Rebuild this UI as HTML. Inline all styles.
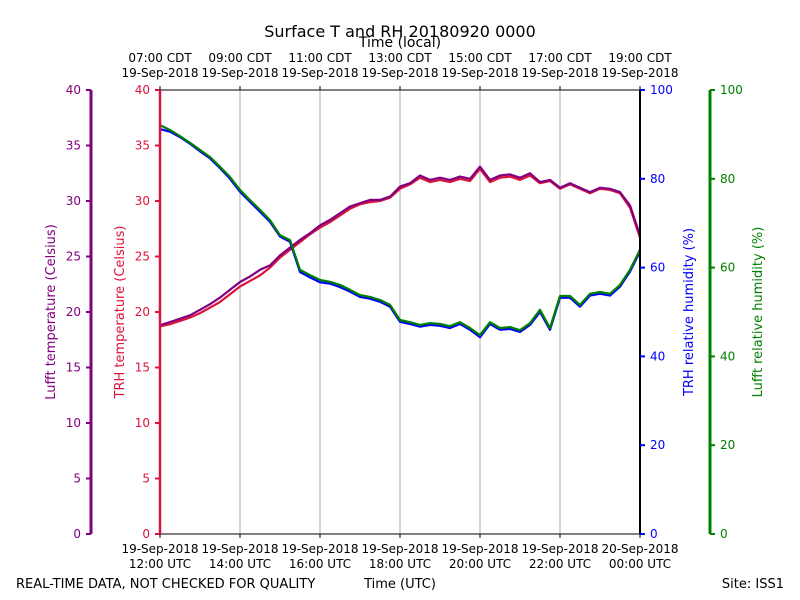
<!DOCTYPE html>
<html><head><meta charset="utf-8"><style>
body{margin:0;background:#fff;}
svg{display:block;font-family:"DejaVu Sans","Liberation Sans",sans-serif;}
</style></head><body>
<svg id="c" width="800" height="600" viewBox="0 0 800 600"></svg>
<script>
const times=[0,0.25,0.5,0.75,1,1.25,1.5,1.75,2,2.25,2.5,2.75,3,3.25,3.5,3.75,4,4.25,4.5,4.75,5,5.25,5.5,5.75,6,6.25,6.5,6.75,7,7.25,7.5,7.75,8,8.25,8.5,8.75,9,9.25,9.5,9.75,10,10.25,10.5,10.75,11,11.25,11.5,11.75,12];
const lufftT=[18.8,19.1,19.4,19.7,20.2,20.7,21.3,22.0,22.7,23.2,23.8,24.2,25.1,25.8,26.5,27.1,27.8,28.3,28.9,29.5,29.8,30.1,30.1,30.4,31.3,31.6,32.3,31.9,32.1,31.9,32.2,32.0,33.1,31.9,32.3,32.4,32.1,32.5,31.7,31.9,31.2,31.6,31.2,30.8,31.2,31.1,30.8,29.6,26.9];
const trhT=[18.7,18.9,19.2,19.5,19.9,20.4,20.9,21.6,22.3,22.8,23.3,24.0,24.9,25.6,26.3,27.0,27.6,28.1,28.7,29.3,29.7,29.9,30.0,30.3,31.1,31.5,32.1,31.7,31.9,31.7,32.0,31.8,32.9,31.7,32.1,32.2,31.9,32.3,31.6,31.8,31.1,31.5,31.1,30.7,31.1,31.0,30.7,29.4,26.7];
const lufftRH=[92.1,91.0,89.6,88.1,86.5,84.9,82.7,80.4,77.5,75.2,73.0,70.7,67.3,66.2,59.5,58.3,57.2,56.8,56.1,55.0,53.8,53.4,52.7,51.6,48.2,47.7,47.1,47.5,47.3,46.8,47.7,46.4,44.8,47.7,46.4,46.6,45.9,47.5,50.5,46.4,53.6,53.6,51.6,54.1,54.5,54.1,56.1,59.5,64.0];
const trhRH=[91.2,90.6,89.4,87.9,86.2,84.6,82.4,80.0,77.1,74.8,72.6,70.3,67.0,65.8,59.0,57.8,56.7,56.4,55.6,54.6,53.4,53.0,52.3,51.2,47.8,47.3,46.7,47.1,46.9,46.4,47.3,46.0,44.3,47.3,46.0,46.2,45.5,47.1,50.0,46.0,53.2,53.2,51.2,53.7,54.1,53.7,55.7,59.1,63.6];
const tempTicks=[0,5,10,15,20,25,30,35,40];
const rhTicks=[0,20,40,60,80,100];
const topLabels=["07:00 CDT","09:00 CDT","11:00 CDT","13:00 CDT","15:00 CDT","17:00 CDT","19:00 CDT"];
const botDates=["19-Sep-2018","19-Sep-2018","19-Sep-2018","19-Sep-2018","19-Sep-2018","19-Sep-2018","20-Sep-2018"];
const botTimes=["12:00 UTC","14:00 UTC","16:00 UTC","18:00 UTC","20:00 UTC","22:00 UTC","00:00 UTC"];
const X0=160,X1=640,Y0=534,Y1=90;
const xs=h=>X0+(X1-X0)*h/12;
const yT=t=>Y0-(Y0-Y1)*t/40;
const yR=r=>Y0-(Y0-Y1)*r/100;
const svg=document.getElementById('c');
const NS='http://www.w3.org/2000/svg';
function el(tag,attrs,parent){const e=document.createElementNS(NS,tag);for(const k in attrs)e.setAttribute(k,attrs[k]);(parent||svg).appendChild(e);return e;}
function txt(x,y,s,attrs){const e=el('text',Object.assign({x:x,y:y,'font-size':12},attrs||{}));e.textContent=s;return e;}
// grid
for(let i=1;i<6;i++){const g=el('line',{x1:xs(i*2),x2:xs(i*2),y1:Y1,y2:Y0,stroke:'#b0b0b0','stroke-width':1});

}
// series
function series(xv,yv,yf,color,name){const d=xv.map((t,i)=>(i?'L':'M')+xs(t).toFixed(1)+','+yf(yv[i]).toFixed(1)).join(' ');
const p=el('path',{d:d,fill:'none',stroke:color,'stroke-width':2.2,'stroke-linejoin':'round'});

}
series(times,trhT,yT,'#dc143c','trh-temperature-line');
series(times,lufftT,yT,'#800080','lufft-temperature-line');
series(times,trhRH,yR,'#0000ff','trh-rh-line');
series(times,lufftRH,yR,'#008000','lufft-rh-line');
// frame
el('line',{x1:X0,x2:X1,y1:Y1,y2:Y1,stroke:'#000','stroke-width':1});
el('line',{x1:X0,x2:X1,y1:Y0,y2:Y0,stroke:'#000','stroke-width':1});
// spines
el('line',{x1:91,x2:91,y1:Y1,y2:Y0,stroke:'#800080','stroke-width':3});
el('line',{x1:160,x2:160,y1:Y1,y2:Y0,stroke:'#dc143c','stroke-width':2.5});
el('line',{x1:640,x2:640,y1:Y1,y2:Y0,stroke:'#000','stroke-width':2});
el('line',{x1:710,x2:710,y1:Y1,y2:Y0,stroke:'#008000','stroke-width':3});
tempTicks.forEach(t=>{const y=yT(t);
el('line',{x1:86,x2:91,y1:y,y2:y,stroke:'#800080','stroke-width':2});
txt(81,y+4,String(t),{fill:'#800080','text-anchor':'end'});
el('line',{x1:155,x2:160,y1:y,y2:y,stroke:'#dc143c','stroke-width':2});
txt(150,y+4,String(t),{fill:'#dc143c','text-anchor':'end'});});
rhTicks.forEach(r=>{const y=yR(r);
el('line',{x1:640,x2:645,y1:y,y2:y,stroke:'#0000ff','stroke-width':2});
txt(650,y+4,String(r),{fill:'#0000ff'});
el('line',{x1:710,x2:715,y1:y,y2:y,stroke:'#008000','stroke-width':2});
txt(720,y+4,String(r),{fill:'#008000'});});
for(let i=0;i<7;i++){const x=xs(i*2);
el('line',{x1:x,x2:x,y1:Y1-4,y2:Y1,stroke:'#000'});
el('line',{x1:x,x2:x,y1:Y0,y2:Y0+4,stroke:'#000'});
txt(x,62,topLabels[i],{'text-anchor':'middle'});
txt(x,77,'19-Sep-2018',{'text-anchor':'middle'});
txt(x,553,botDates[i],{'text-anchor':'middle'});
txt(x,568,botTimes[i],{'text-anchor':'middle'});}
const ttl=txt(400,37,'Surface T and RH 20180920 0000',{'text-anchor':'middle','font-size':16});


txt(400,47,'Time (local)',{'text-anchor':'middle','font-size':14});
txt(400,588,'Time (UTC)',{'text-anchor':'middle','font-size':13});
txt(16,588,'REAL-TIME DATA, NOT CHECKED FOR QUALITY',{'font-size':13});
txt(784,588,'Site: ISS1',{'font-size':13,'text-anchor':'end'});
txt(55,312,'Lufft temperature (Celsius)',{'font-size':13,fill:'#800080','text-anchor':'middle',transform:'rotate(-90 55 312)'});
txt(124,312,'TRH temperature (Celsius)',{'font-size':13,fill:'#dc143c','text-anchor':'middle',transform:'rotate(-90 124 312)'});
txt(693,312,'TRH relative humidity (%)',{'font-size':13,fill:'#0000ff','text-anchor':'middle',transform:'rotate(-90 693 312)'});
txt(762,312,'Lufft relative humidity (%)',{'font-size':13,fill:'#008000','text-anchor':'middle',transform:'rotate(-90 762 312)'});
</script>
</body></html>
